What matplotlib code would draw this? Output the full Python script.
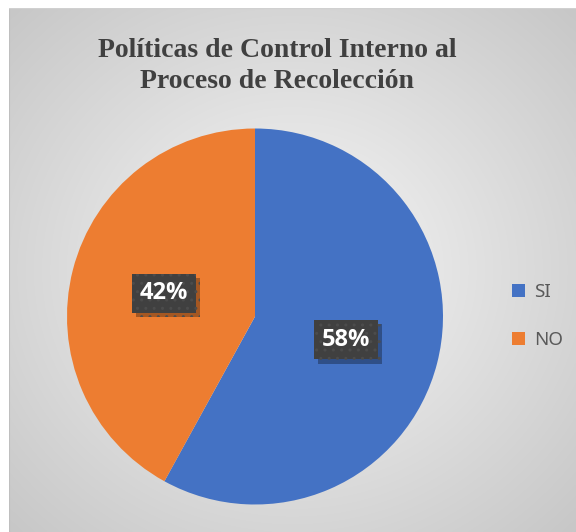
import numpy as np
import matplotlib
matplotlib.use("Agg")
import matplotlib.pyplot as plt
from matplotlib.patches import Patch
import matplotlib.patheffects as pe

categories = ["SI", "NO"]
values = [58, 42]
colors = ["#4472C4", "#ED7D31"]
title = "Políticas de Control Interno al\nProceso de Recolección"

W, H = 576, 532
fig = plt.figure(figsize=(W / 100, H / 100), dpi=100)
fig.patch.set_facecolor("white")

# background frame with radial gradient
bg = fig.add_axes([9 / W, 0, 567 / W, 524 / H])
bg.set_axis_off()
yy, xx = np.mgrid[-1:1:300j, -1:1:300j]
rr = np.sqrt(xx ** 2 + yy ** 2) / np.sqrt(2)
shade = 0.97 - 0.19 * rr
bg.imshow(np.dstack([shade, shade, shade]), extent=[0, 1, 0, 1], aspect="auto",
          interpolation="bilinear")
bg.set_xlim(0, 1)
bg.set_ylim(0, 1)
bg.plot([0, 0], [0, 1], color="#bfbfbf", lw=1.5)
bg.plot([0, 1], [1, 1], color="#d0d0d0", lw=1.0)

# title
fig.text(277 / W, 1 - 66 / H, title, ha="center", va="center",
         fontsize=20, fontweight="bold", family="Liberation Serif",
         color="#404040", linespacing=1.3)

# pie
cx, cy, r = 255, 532 - 316.5, 188
ax = fig.add_axes([(cx - r) / W, (cy - r) / H, 2 * r / W, 2 * r / H])
ax.set_facecolor("none")
wedges, texts = ax.pie(values, colors=colors, startangle=90, counterclock=False,
                       radius=1.0, wedgeprops=dict(linewidth=0))
ax.set_xlim(-1, 1)
ax.set_ylim(-1, 1)
ax.set_aspect("equal")

total = sum(values)
start = 90.0
for v in values:
    sweep = 360.0 * v / total
    mid = np.deg2rad(start - sweep / 2)
    start -= sweep
    x, y = 0.5 * np.cos(mid), 0.5 * np.sin(mid)
    lbl = f"{round(100 * v / total)}%"
    t = ax.text(x, y, lbl, ha="center", va="center", fontsize=17, fontweight="bold",
                family="Open Sans", color="white",
                bbox=dict(boxstyle="square,pad=0.32", fc="#404040", ec="#4c4c4c",
                          lw=0, hatch=".."))
    t.get_bbox_patch().set_path_effects([
        pe.SimplePatchShadow(offset=(3, -3), shadow_rgbFace="black", alpha=0.3),
        pe.Normal()])

# legend
handles = [Patch(facecolor=c, edgecolor="none") for c in colors]
leg = fig.legend(handles, categories, loc="center left",
                 bbox_to_anchor=(495 / W, 1 - 316 / H), frameon=False,
                 labelspacing=1.6, handlelength=0.7,
                 handleheight=0.7, handletextpad=0.5,
                 prop=dict(family="Noto Sans", size=13.5))
for t in leg.get_texts():
    t.set_color("#595959")

fig.savefig("out.png", dpi=100)
